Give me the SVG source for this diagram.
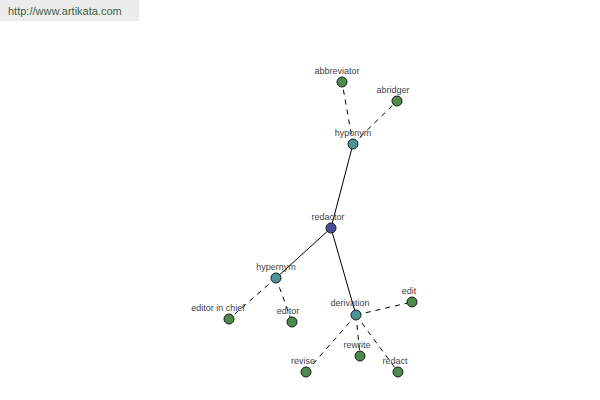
<svg xmlns="http://www.w3.org/2000/svg" width="600" height="400" viewBox="0 0 600 400">
<style>
.bg{fill:#ffffff}
.e{stroke:#000;stroke-width:1;fill:none}
.d{stroke-dasharray:5,5}
.n{stroke:#1a1a1a;stroke-width:1}
.g{fill:#4e8a4e}
.t{fill:#4a9494}
.r{fill:#4a4e96}
text{font-family:"Liberation Sans",Arial,sans-serif;font-size:9px;fill:#444;text-anchor:middle}
</style>
<rect class="bg" x="0" y="0" width="600" height="400"/>
<g id="header">
<rect x="0" y="0" width="139" height="21" fill="#ececec"/>
<text x="8" y="15" style="text-anchor:start;font-size:11px;fill:#3f5f3f">http://www.artikata.com</text>
</g>
<g id="connectors">
<line class="e" x1="331" y1="228" x2="353" y2="144"/>
<line class="e" x1="331" y1="228" x2="276" y2="278"/>
<line class="e" x1="331" y1="228" x2="356" y2="315"/>
<line class="e d" x1="353" y1="144" x2="342" y2="82"/>
<line class="e d" x1="353" y1="144" x2="397" y2="101"/>
<line class="e d" x1="276" y1="278" x2="229" y2="319"/>
<line class="e d" x1="276" y1="278" x2="292" y2="322"/>
<line class="e d" x1="356" y1="315" x2="412" y2="302"/>
<line class="e d" x1="356" y1="315" x2="306" y2="372"/>
<line class="e d" x1="356" y1="315" x2="360" y2="356"/>
<line class="e d" x1="356" y1="315" x2="398" y2="372"/>
</g>
<g id="abbreviator"><circle class="n g" cx="342" cy="82" r="5"/><text x="337" y="74">abbreviator</text></g>
<g id="abridger"><circle class="n g" cx="397" cy="101" r="5"/><text x="393" y="93">abridger</text></g>
<g id="hyponym"><circle class="n t" cx="353" cy="144" r="5"/><text x="353" y="136">hyponym</text></g>
<g id="redactor"><circle class="n r" cx="331" cy="228" r="5"/><text x="328" y="220">redactor</text></g>
<g id="hypernym"><circle class="n t" cx="276" cy="278" r="5"/><text x="276" y="270">hypernym</text></g>
<g id="editor-in-chief"><circle class="n g" cx="229" cy="319" r="5"/><text x="218" y="311">editor in chief</text></g>
<g id="editor"><circle class="n g" cx="292" cy="322" r="5"/><text x="288" y="314">editor</text></g>
<g id="derivation"><circle class="n t" cx="356" cy="315" r="5"/><text x="350" y="306">derivation</text></g>
<g id="edit"><circle class="n g" cx="412" cy="302" r="5"/><text x="409" y="294">edit</text></g>
<g id="revise"><circle class="n g" cx="306" cy="372" r="5"/><text x="303" y="364">revise</text></g>
<g id="rewrite"><circle class="n g" cx="360" cy="356" r="5"/><text x="357" y="348">rewrite</text></g>
<g id="redact"><circle class="n g" cx="398" cy="372" r="5"/><text x="395" y="364">redact</text></g>
</svg>
